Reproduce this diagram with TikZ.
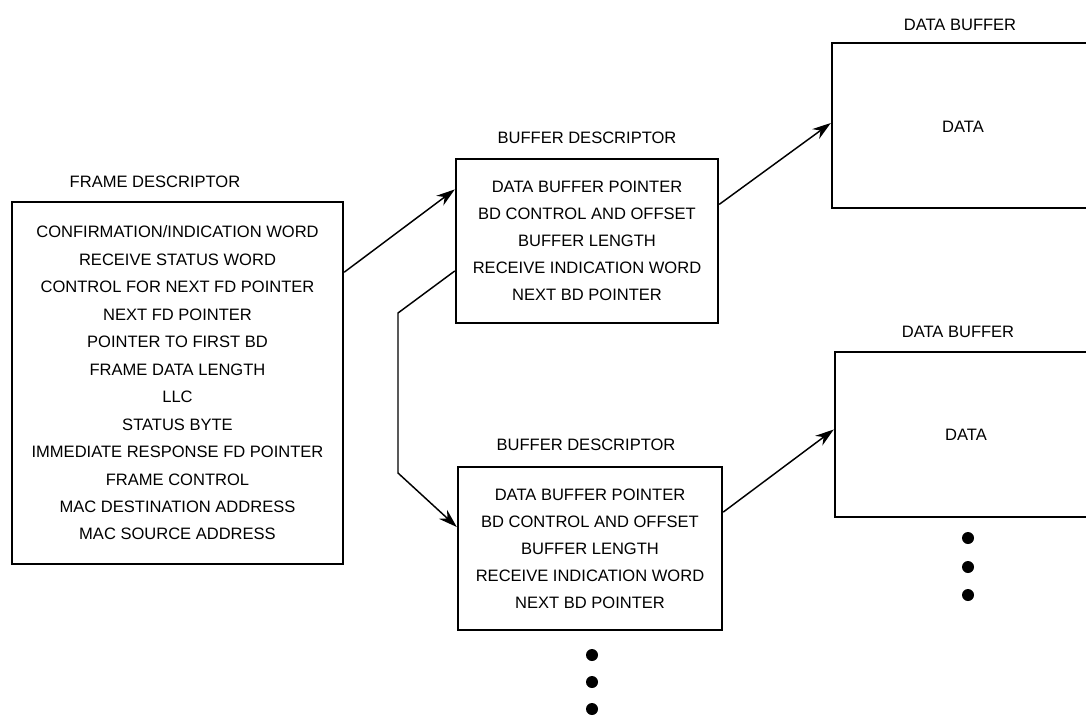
\documentclass[tikz,border=0pt]{standalone}
\usepackage{fontspec}
\setmainfont{Liberation Sans}
\usetikzlibrary{arrows.meta,calc}
\begin{document}
\begin{tikzpicture}[x=0.75pt,y=-0.75pt,
 box/.style={draw, line width=1.8pt, inner sep=0pt, align=center},
 fdtext/.style={font=\fontsize{12.4}{20.6}\selectfont},
 bdtext/.style={font=\fontsize{12.4}{20.3}\selectfont},
 lbl/.style={font=\fontsize{12.4}{14}\selectfont, inner sep=0pt},
 conn/.style={line width=1.1pt, -{Stealth[length=14pt,width=9pt,inset=4.5pt]}},
 blob/.style={circle, fill, inner sep=0pt, minimum size=9pt}]
\useasboundingbox (0,0) rectangle (1086,715);

% frame descriptor
\node[lbl] (fdl) at (155,182) {FRAME DESCRIPTOR};
\node[box, fdtext, minimum width=248.25pt, minimum height=271.5pt] (fd) at (177.5,383)
 {CONFIRMATION/INDICATION WORD\\RECEIVE STATUS WORD\\CONTROL FOR NEXT FD POINTER\\NEXT FD POINTER\\POINTER TO FIRST BD\\FRAME DATA LENGTH\\LLC\\STATUS BYTE\\IMMEDIATE RESPONSE FD POINTER\\FRAME CONTROL\\MAC DESTINATION ADDRESS\\MAC SOURCE ADDRESS};

% buffer descriptors
\node[lbl] (bd1l) at (587,138) {BUFFER DESCRIPTOR};
\node[box, bdtext, minimum width=196.5pt, minimum height=123pt] (bd1) at (587,241)
 {DATA BUFFER POINTER\\BD CONTROL AND OFFSET\\BUFFER LENGTH\\RECEIVE INDICATION WORD\\NEXT BD POINTER};
\node[lbl] (bd2l) at (586,445) {BUFFER DESCRIPTOR};
\node[box, bdtext, minimum width=198pt, minimum height=122.25pt] (bd2) at (590,548.5)
 {DATA BUFFER POINTER\\BD CONTROL AND OFFSET\\BUFFER LENGTH\\RECEIVE INDICATION WORD\\NEXT BD POINTER};

% data buffers
\node[lbl] (db1l) at (960,25) {DATA BUFFER};
\node[box, minimum width=201pt, minimum height=123.75pt] (db1) at (966,125.5) {};
\node[lbl] (d1) at (963,127) {DATA};
\node[lbl] (db2l) at (958,332) {DATA BUFFER};
\node[box, minimum width=198.75pt, minimum height=123.75pt] (db2) at (967.5,434.5) {};
\node[lbl] (d2) at (966,435) {DATA};

% connectors
\draw[conn] ($(fd.north east)!0.196!(fd.south east)$) -- ($(bd1.north west)!0.19!(bd1.south west)$);
\draw[conn] ($(bd1.north east)!0.28!(bd1.south east)$) -- ($(db1.north west)!0.485!(db1.south west)$);
\draw[conn] ($(bd2.north east)!0.28!(bd2.south east)$) -- ($(db2.north west)!0.47!(db2.south west)$);
\draw[conn] ($(bd1.north west)!0.68!(bd1.south west)$) -- (398,313) -- (398,473) -- ($(bd2.north west)!0.37!(bd2.south west)$);

% continuation dots
\node[blob] (a1) at (968,538) {};
\node[blob] (a2) at (968,567) {};
\node[blob] (a3) at (968,595) {};
\node[blob] (b1) at (592,655) {};
\node[blob] (b2) at (592,682) {};
\node[blob] (b3) at (592,709) {};
\end{tikzpicture}
\end{document}
